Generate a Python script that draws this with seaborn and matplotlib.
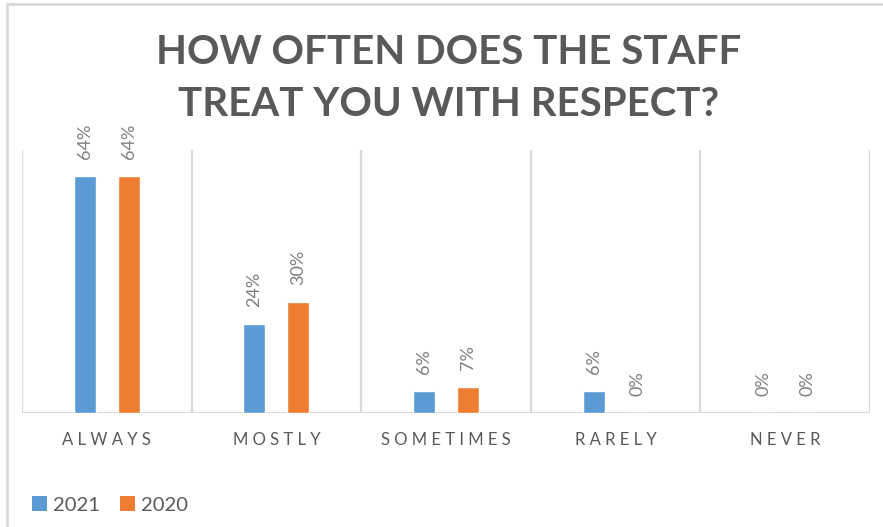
import matplotlib
matplotlib.use("Agg")
import matplotlib.pyplot as plt
import seaborn as sns
import pandas as pd
from matplotlib.patches import Patch, Rectangle

categories = ["ALWAYS", "MOSTLY", "SOMETIMES", "RARELY", "NEVER"]
series_names = ["2021", "2020"]
values_2021 = [64, 24, 6, 6, 0]
values_2020 = [64, 30, 7, 0, 0]
colors = ["#5B9BD5", "#ED7D31"]
title_lines = ["HOW OFTEN DOES THE STAFF", "TREAT YOU WITH RESPECT?"]

sns.set_style("white")
plt.rcParams["font.family"] = ["Lato", "DejaVu Sans"]

df = pd.DataFrame({
    "category": categories * 2,
    "year": [series_names[0]] * len(categories) + [series_names[1]] * len(categories),
    "value": values_2021 + values_2020,
})

W, H = 883, 527
fig = plt.figure(figsize=(W / 100, H / 100), dpi=100)
fig.patch.set_facecolor("white")

left, right, top, bottom = 22, 870, 150, 413
ax = fig.add_axes([left / W, 1 - bottom / H, (right - left) / W, (bottom - top) / H])

sns.barplot(data=df, x="category", y="value", hue="year", order=categories,
            hue_order=series_names, palette=colors, width=0.52, gap=0.5,
            ax=ax, legend=False, saturation=1)

ax.set_ylim(0, 71)
ax.set_xlim(-0.5, len(categories) - 0.5)
for s in ax.spines.values():
    s.set_visible(False)
ax.set_yticks([])
ax.set_xlabel("")
ax.set_ylabel("")
for xb in [i - 0.5 for i in range(len(categories) + 1)]:
    ax.axvline(xb, color="#D9D9D9", lw=1.6, zorder=0)
ax.axhline(0, color="#D9D9D9", lw=1.6, zorder=0.5)

ax.set_xticks(range(len(categories)))
ax.set_xticklabels([" ".join(c) for c in categories], color="#595959", fontsize=12)
ax.tick_params(axis="x", length=0, pad=14)

for cont in ax.containers:
    ax.bar_label(cont, fmt="%d%%", rotation=90, padding=12, color="#7F7F7F", fontsize=13)

for yc, line in zip([53, 104], title_lines):
    fig.text(449 / W, 1 - yc / H, line, ha="center", va="center", fontsize=29,
             fontweight="bold", color="#595959")

handles = [Patch(facecolor=c, edgecolor="none") for c in colors]
fig.legend(handles, series_names, loc="center left", bbox_to_anchor=(24 / W, 1 - 505 / H),
           frameon=False, fontsize=14.5, handlelength=0.75, handleheight=0.75,
           handletextpad=0.3, columnspacing=1.0, ncol=2, labelcolor="#595959", borderaxespad=0)

fig.add_artist(Rectangle((7 / W, -0.1), 1.2, 1.1 - 4 / H, transform=fig.transFigure,
                         fill=False, edgecolor="#D9D9D9", lw=2))

fig.savefig("out.png", dpi=100)
